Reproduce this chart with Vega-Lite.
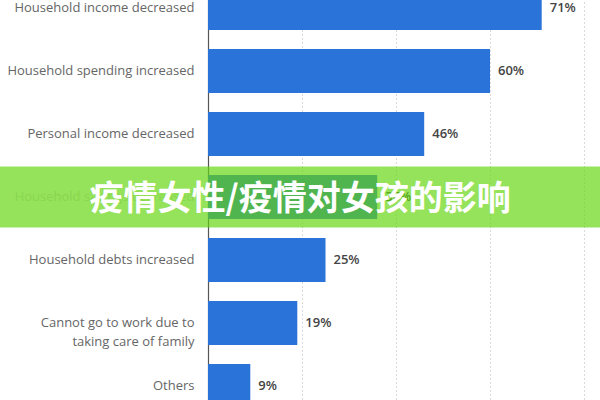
{
  "$schema": "https://vega.github.io/schema/vega-lite/v6.json",
  "autosize": "none",
  "width": 376,
  "height": 400,
  "padding": {"left": 208, "top": 0, "right": 16, "bottom": 0},
  "background": "white",
  "config": {"view": {"stroke": null}},
  "data": {
    "values": [
      {"category": "Household income decreased", "share": 0.71},
      {"category": "Household spending increased", "share": 0.60},
      {"category": "Personal income decreased", "share": 0.46},
      {"category": "Household savings decreased", "share": 0.36},
      {"category": "Household debts increased", "share": 0.25},
      {"category": "Cannot go to work due to taking care of family", "share": 0.19},
      {"category": "Others", "share": 0.09}
    ]
  },
  "encoding": {
    "y": {
      "field": "category",
      "type": "nominal",
      "sort": null,
      "title": null,
      "scale": {"range": [-23.45, 417.55], "paddingInner": 0.3, "paddingOuter": 0.15},
      "axis": {
        "ticks": false,
        "labelPadding": 14,
        "labelFont": "Open Sans",
        "labelFontSize": 13,
        "labelColor": "#666666",
        "labelOpacity": {"condition": {"test": "datum.value == 'Household savings decreased'", "value": 0.25}, "value": 1},
        "labelLimit": 220,
        "labelLineHeight": 19,
        "domainColor": "#555555",
        "domainWidth": 1.2,
        "labelExpr": "datum.value == 'Cannot go to work due to taking care of family' ? ['Cannot go to work due to', 'taking care of family'] : datum.value"
      }
    }
  },
  "layer": [
    {
      "mark": {"type": "bar", "color": "#2a73d8"},
      "encoding": {
        "x": {
          "field": "share",
          "type": "quantitative",
          "title": null,
          "scale": {"domain": [0, 0.8], "nice": false},
          "axis": {
            "labels": false,
            "ticks": false,
            "domain": false,
            "values": [0.2, 0.4, 0.6, 0.8],
            "gridColor": "#d9d9d9",
            "gridDash": [2, 2]
          }
        }
      }
    },
    {
      "mark": {"type": "text", "align": "left", "dx": 8, "font": "Open Sans", "fontSize": 13, "fontWeight": 600, "color": "#444444"},
      "encoding": {
        "x": {"field": "share", "type": "quantitative"},
        "text": {"field": "share", "type": "quantitative", "format": ".0%"}
      }
    },
    {
      "data": {"values": [{"category": "Household savings decreased", "caption": "疫情女性/疫情对女孩的影响"}]},
      "layer": [
        {
          "mark": {"type": "bar", "color": "#63d40e", "opacity": 0.68, "height": {"band": 1.38}},
          "encoding": {
            "x": {"datum": -0.445, "type": "quantitative"},
            "x2": {"datum": 0.84}
          }
        },
        {
          "mark": {"type": "text", "font": "Noto Sans CJK SC", "fontSize": 34, "fontWeight": "bold", "color": "white", "align": "center", "baseline": "middle", "dy": 3},
          "encoding": {
            "x": {"datum": 0.196, "type": "quantitative"},
            "text": {"field": "caption"}
          }
        }
      ]
    }
  ]
}
